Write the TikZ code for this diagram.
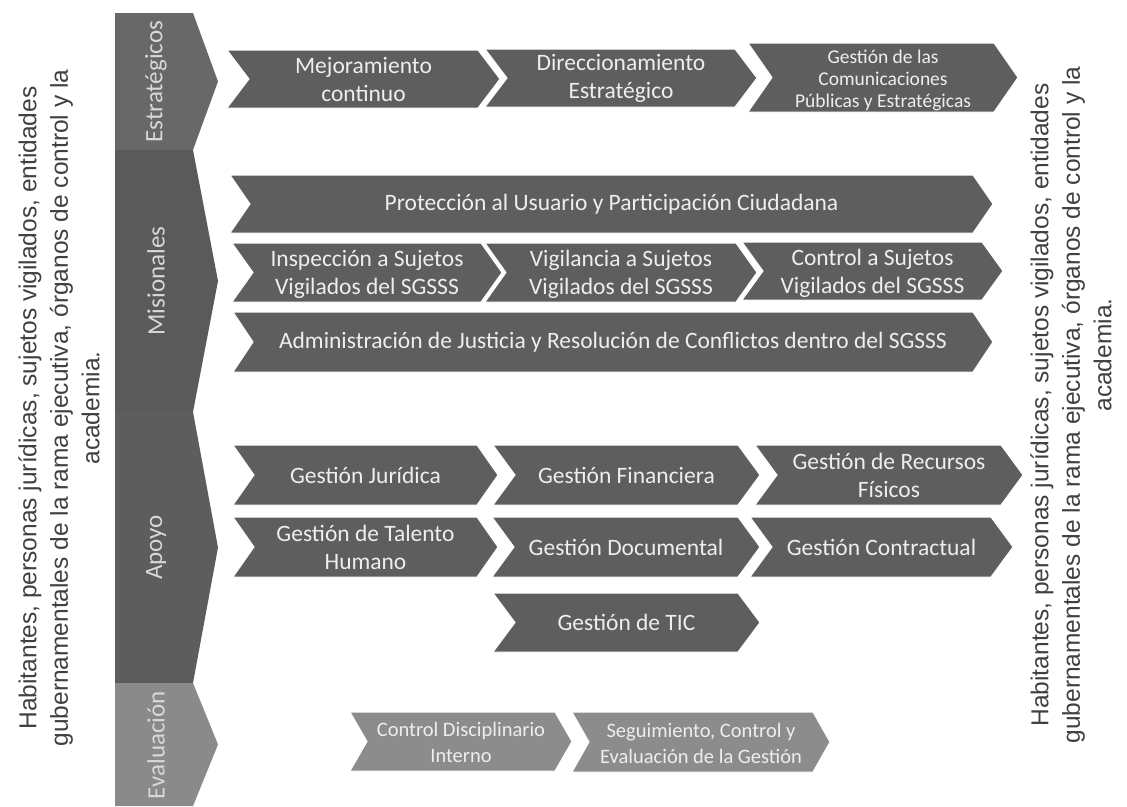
\documentclass[tikz,border=0pt]{standalone}
\usepackage{fontspec}
\setmainfont{Carlito}
\newfontfamily\arialf{Liberation Sans}
\definecolor{chevgray}{HTML}{5E5E5E}
\definecolor{evalgray}{HTML}{8C8C8C}
\definecolor{estc}{HTML}{686868}
\definecolor{misc}{HTML}{5A5A5A}
\definecolor{apoc}{HTML}{5D5D5D}
\definecolor{evac}{HTML}{8A8A8A}
\definecolor{chevtxt}{HTML}{EEEEEE}
\definecolor{labtxt}{HTML}{D8D8D8}
\definecolor{sidetxt}{HTML}{404040}
\tikzset{
  chevfill/.style={fill=chevgray, draw=white, line width=1pt},
  chevtext/.style={text=chevtxt, align=center, inner sep=0pt, font=\fontsize{23.5}{28}\selectfont},
  evaltext/.style={font=\fontsize{20.5}{26}\selectfont, yshift=-1pt},
  barlabel/.style={text=labtxt, rotate=90, inner sep=0pt, font=\fontsize{25}{29}\selectfont},
  sidetext/.style={text=sidetxt, rotate=90, align=center, inner sep=0pt, font=\arialf\fontsize{24.5}{31.5}\selectfont},
}
\newcommand{\chv}[9][]{%
  \pgfmathsetmacro{\chvym}{(#5+#6)/2}%
  \pgfmathsetmacro{\chvxb}{#4-#7}%
  \pgfmathsetmacro{\chvxn}{#3+#7}%
  \pgfmathsetmacro{\chvxm}{(#3+#4)/2}%
  \path[chevfill,#1] (#3,#5) -- (\chvxb,#5) -- (#4,\chvym) -- (\chvxb,#6) -- (#3,#6) -- (\chvxn,\chvym) -- cycle;%
  \node[chevtext,#8] (#2) at (\chvxm,\chvym) {#9};%
}
\begin{document}
\begin{tikzpicture}[x=1pt,y=-1pt]
\useasboundingbox (0,0) rectangle (1127,806);
\fill[white] (0,0) rectangle (1127,806);

% side bar
\path[fill=estc] (115,13) -- (193,13) -- (218,81.5) -- (193,150) -- (115,150) -- cycle;
\path[fill=misc] (115,150) -- (193,150) -- (218,281) -- (193,412) -- (115,412) -- cycle;
\path[fill=apoc] (115,412) -- (193,412) -- (218,547.5) -- (193,683) -- (115,683) -- cycle;
\path[fill=evac] (115,683) -- (193,683) -- (218,744.5) -- (193,806) -- (115,806) -- cycle;
\node[barlabel] (lest) at (156,81.5) {Estratégicos};
\node[barlabel] (lmis) at (156,281) {Misionales};
\node[barlabel] (lapo) at (156,547.5) {Apoyo};
\node[barlabel] (leva) at (156,745) {Evaluación};

% side texts
\node[sidetext] (lefttxt) at (59,408) {Habitantes, personas jurídicas, sujetos vigilados, entidades\\gubernamentales de la rama ejecutiva, órganos de control y la\\academia.};
\node[sidetext] (righttxt) at (1071,405) {Habitantes, personas jurídicas, sujetos vigilados, entidades\\gubernamentales de la rama ejecutiva, órganos de control y la\\\hspace*{100pt}academia.};

% Estrategicos
\chv{s1}{227}{500}{50}{108}{22}{}{Mejoramiento\\continuo}
\chv{s2}{485}{757}{49}{107}{22}{}{Direccionamiento\\Estratégico}
\chv{s3}{748}{1018}{43}{112}{24}{yshift=-2.5pt,font=\fontsize{19.5}{22}\selectfont}{Gestión de las\\Comunicaciones\\Públicas y Estratégicas}

% Misionales
\chv{m1}{230}{993}{175}{233}{20}{}{Protección al Usuario y Participación Ciudadana}
\chv{m2}{232}{502}{243}{302}{21}{yshift=-2pt}{Inspección a Sujetos\\Vigilados del SGSSS}
\chv{m3}{485}{757}{243}{302}{21}{yshift=-2pt}{Vigilancia a Sujetos\\Vigilados del SGSSS}
\chv{m4}{742}{1003}{242}{300}{21}{yshift=-2pt}{Control a Sujetos\\Vigilados del SGSSS}
\chv{m5}{233}{993}{312}{372}{20}{}{Administración de Justicia y Resolución de Conflictos dentro del SGSSS}

% Apoyo
\chv{a1}{233}{498}{445}{505}{21}{}{Gestión Jurídica}
\chv{a2}{493}{760}{445}{505}{22}{}{Gestión Financiera}
\chv{a3}{755}{1023}{445}{505}{22}{}{Gestión de Recursos\\Físicos}
\chv{a4}{233}{498}{517}{577}{21}{}{Gestión de Talento\\Humano}
\chv{a5}{492}{760}{517}{577}{22}{}{Gestión Documental}
\chv{a6}{750}{1013}{517}{577}{22}{}{Gestión Contractual}
\chv{a7}{493}{760}{593}{652}{22}{}{Gestión de TIC}

% Evaluacion
\chv[fill=evalgray]{e1}{350}{572}{712}{771}{17}{evaltext}{Control Disciplinario\\Interno}
\chv[fill=evalgray]{e2}{572}{830}{712}{772}{17}{evaltext}{Seguimiento, Control y\\Evaluación de la Gestión}
\end{tikzpicture}
\end{document}
